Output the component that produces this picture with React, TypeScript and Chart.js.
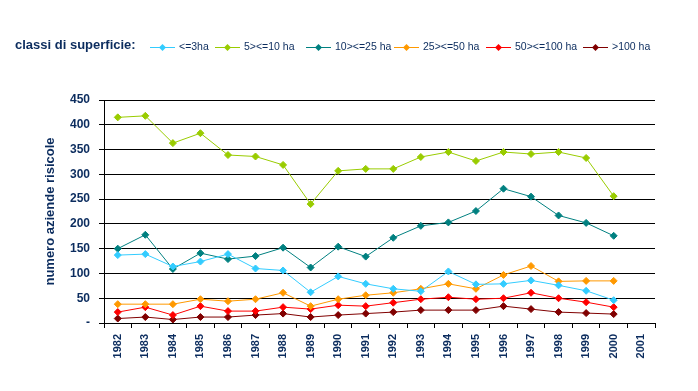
import React, { useEffect, useRef } from "react";
import { Chart, registerables } from "chart.js";

Chart.register(...registerables);

const years = ["1982","1983","1984","1985","1986","1987","1988","1989","1990","1991","1992","1993","1994","1995","1996","1997","1998","1999","2000","2001"];

const seriesNames = ["<=3ha", "5><=10 ha", "10><=25 ha", "25><=50 ha", "50><=100 ha", ">100 ha"];
const seriesColors = ["#33CCFF", "#99CC00", "#008080", "#FF9900", "#FF0000", "#800000"];

const upTo3 = [137, 139, 114, 124, 139, 110, 106, 62, 94, 79, 69, 64, 104, 78, 79, 86, 76, 65, 46, null];
const from5to10 = [415, 418, 363, 383, 339, 336, 319, 240, 307, 311, 311, 335, 345, 327, 345, 341, 345, 333, 256, null];
const from10to25 = [150, 178, 109, 141, 129, 135, 152, 112, 154, 134, 172, 196, 203, 226, 271, 255, 217, 202, 176, null];
const from25to50 = [38, 38, 38, 48, 44, 48, 61, 34, 48, 56, 61, 69, 79, 69, 97, 115, 84, 85, 85, null];
const from50to100 = [22, 32, 16, 34, 24, 24, 32, 28, 36, 34, 41, 48, 52, 48, 50, 61, 50, 42, 32, null];
const over100 = [9, 12, 7, 12, 12, 16, 19, 12, 16, 19, 22, 26, 26, 26, 34, 28, 22, 20, 18, null];

const seriesValues = [upTo3, from5to10, from10to25, from25to50, from50to100, over100];

const yTicks = [0, 50, 100, 150, 200, 250, 300, 350, 400, 450];

const NAVY = "#0B2C5E";
const FONT = "'Liberation Sans', Arial, sans-serif";

const legendStarts = [150, 215, 306, 394, 486, 583];

function diamond(ctx: CanvasRenderingContext2D, x: number, y: number, r: number, color: string) {
  ctx.beginPath();
  ctx.moveTo(x, y - r);
  ctx.lineTo(x + r, y);
  ctx.lineTo(x, y + r);
  ctx.lineTo(x - r, y);
  ctx.closePath();
  ctx.fillStyle = color;
  ctx.fill();
}

const legendPlugin = {
  id: "customLegend",
  afterDraw(chart: any) {
    const ctx = chart.ctx as CanvasRenderingContext2D;
    ctx.save();
    ctx.fillStyle = NAVY;
    ctx.font = `bold 13px ${FONT}`;
    ctx.textBaseline = "middle";
    ctx.textAlign = "left";
    ctx.fillText("classi di superficie:", 15, 45);
    ctx.font = `10.5px ${FONT}`;
    const y = 47.5;
    seriesNames.forEach((name, i) => {
      const L = legendStarts[i];
      ctx.strokeStyle = seriesColors[i];
      ctx.lineWidth = 1;
      ctx.beginPath();
      ctx.moveTo(L, y);
      ctx.lineTo(L + 25, y);
      ctx.stroke();
      diamond(ctx, L + 12.5, y, 3.5, seriesColors[i]);
      ctx.fillStyle = NAVY;
      ctx.fillText(name, L + 29, y);
    });
    ctx.restore();
  },
};

export default function App() {
  const ref = useRef<HTMLCanvasElement | null>(null);
  useEffect(() => {
    if (!ref.current) return;
    const chart = new Chart(ref.current, {
      type: "line",
      data: {
        labels: years,
        datasets: seriesNames.map((name, i) => ({
          label: name,
          data: seriesValues[i],
          borderColor: seriesColors[i],
          backgroundColor: seriesColors[i],
          pointBackgroundColor: seriesColors[i],
          pointBorderColor: seriesColors[i],
          borderWidth: 1,
          pointStyle: "rectRot",
          pointRadius: 3.5,
          pointBorderWidth: 1,
          tension: 0,
          spanGaps: false,
        })),
      },
      options: {
        animation: false,
        responsive: false,
        maintainAspectRatio: false,
        layout: { padding: { top: 100, right: 43, bottom: 0, left: 0 } },
        plugins: {
          legend: { display: false },
          tooltip: { enabled: false },
        },
        scales: {
          x: {
            offset: true,
            grid: {
              offset: true,
              drawOnChartArea: false,
              drawTicks: true,
              tickLength: 5,
              color: "#000000",
            },
            border: { color: "#000000", width: 1 },
            ticks: {
              minRotation: 90,
              maxRotation: 90,
              padding: 6,
              color: NAVY,
              font: { family: FONT, size: 11, weight: "bold" },
              autoSkip: false,
            },
            afterFit: (scale: any) => {
              scale.height = 68;
            },
          },
          y: {
            min: 0,
            max: 450,
            afterBuildTicks: (scale: any) => {
              scale.ticks = yTicks.map((v) => ({ value: v }));
            },
            grid: {
              color: "#000000",
              lineWidth: 1,
              drawTicks: true,
              tickLength: 5,
            },
            border: { color: "#000000", width: 1 },
            ticks: {
              padding: 9,
              color: NAVY,
              font: { family: FONT, size: 12, weight: "bold" },
              callback: (v: any) => (Number(v) === 0 ? "-" : String(v)),
            },
            title: {
              display: true,
              text: "numero aziende risicole",
              color: NAVY,
              font: { family: FONT, size: 13, weight: "bold" },
              padding: { top: 43, bottom: 0 },
            },
            afterFit: (scale: any) => {
              scale.width = 104;
            },
          },
        },
      },
      plugins: [legendPlugin],
    } as any);
    return () => chart.destroy();
  }, []);
  return (
    <div style={{ position: "fixed", left: 0, top: 0, width: 698, height: 391, background: "#fff" }}>
      <canvas ref={ref} width={698} height={391} style={{ width: 698, height: 391 }} />
    </div>
  );
}
